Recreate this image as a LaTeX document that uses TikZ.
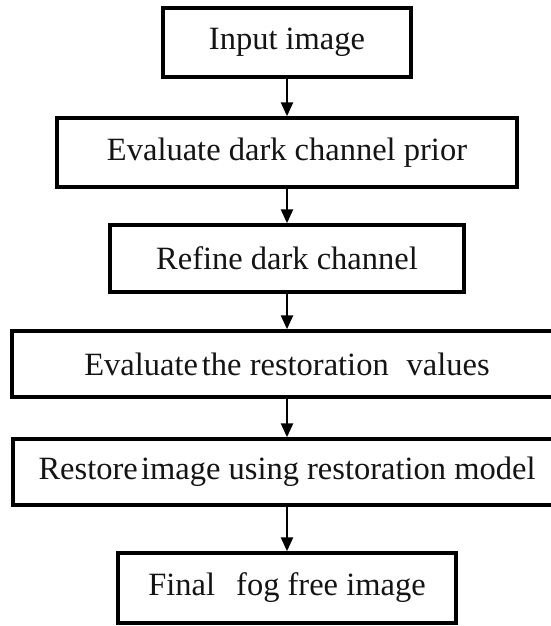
\documentclass[tikz,border=0pt]{standalone}
\usepackage{fontspec}
\setmainfont{Liberation Serif}
\usetikzlibrary{arrows.meta}

\tikzset{
  stepbox/.style={draw=black, line width=3.5pt, fill=white, inner sep=0pt,
    font=\fontsize{32.5}{38}\selectfont, text=black!92},
  flowarrow/.style={line width=2.6pt, -{Triangle[width=12pt,length=14pt]}}
}

\begin{document}
\begin{tikzpicture}[x=1pt, y=-1pt]
  % page frame; the two widest boxes run past the right edge
  \useasboundingbox (0,0) rectangle (551,626);
  \clip (0,0) rectangle (551,626);
  \fill[white] (0,0) rectangle (551,626);

  \node[stepbox, minimum width=248pt, minimum height=69pt] (input)   at (287,42.5) {Input image};
  \node[stepbox, minimum width=460pt, minimum height=69pt] (dcp)     at (287,152.5) {Evaluate dark channel prior};
  \node[stepbox, minimum width=354pt, minimum height=67pt] (refine)  at (287,258.5) {Refine dark channel};
  \node[stepbox, minimum width=550pt, minimum height=66pt] (values)  at (287,364) {Evaluate\hspace{0.12em}the restoration\hspace{0.3em} values};
  \node[stepbox, minimum width=548pt, minimum height=66pt] (restore) at (287,472) {Restore\hspace{0.1em}image using restoration model};
  \node[stepbox, minimum width=338pt, minimum height=70pt] (final)   at (287,588) {Final\hspace{0.4em} fog free image};

  \draw[flowarrow] (input.south)   -- (dcp.north);
  \draw[flowarrow] (dcp.south)     -- (refine.north);
  \draw[flowarrow] (refine.south)  -- (values.north);
  \draw[flowarrow] (values.south)  -- (restore.north);
  \draw[flowarrow] (restore.south) -- (final.north);
\end{tikzpicture}
\end{document}
